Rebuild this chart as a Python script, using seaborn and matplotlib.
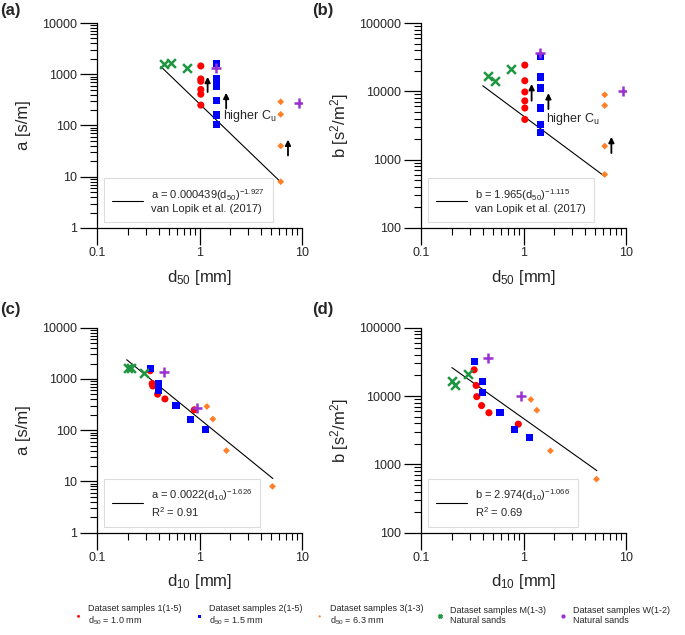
import numpy as np
import pandas as pd
import seaborn as sns
import matplotlib.pyplot as plt
from matplotlib.ticker import FuncFormatter, NullFormatter

# data
s1_d50 = [1.03, 1.03, 1.03, 1.03, 1.03, 1.03]
s1_d10 = [0.33, 0.345, 0.35, 0.39, 0.46, 0.89]
s1_a = [1450, 810, 730, 505, 408, 250]
s1_b = [24200, 14300, 9800, 7250, 5700, 3880]

s2_d50 = [1.48, 1.48, 1.48, 1.48, 1.48, 1.48]
s2_d10 = [0.335, 0.40, 0.40, 0.59, 0.81, 1.15]
s2_a = [1600, 830, 590, 305, 160, 105]
s2_b = [32000, 16200, 11200, 5700, 3270, 2510]

s3_d50 = [6.2, 6.2, 6.2, 6.2]
s3_d10 = [1.18, 1.35, 1.83, 5.15]
s3_a = [290, 165, 40, 8]
s3_b = [8900, 6200, 1580, 608]

m_d50 = [0.45, 0.53, 0.75]
m_d10 = [0.20, 0.215, 0.285]
m_a = [1600, 1650, 1300]
m_b = [16500, 14300, 21100]

w_d50 = [1.45, 9.3]
w_d10 = [0.45, 0.94]
w_a = [1350, 270]
w_b = [36500, 10000]

group_labels = ['Dataset samples 1(1-5)\nd$_{50}$ = 1.0 mm',
                'Dataset samples 2(1-5)\nd$_{50}$ = 1.5 mm',
                'Dataset samples 3(1-3)\nd$_{50}$ = 6.3 mm',
                'Dataset samples M(1-3)\nNatural sands',
                'Dataset samples W(1-2)\nNatural sands']

# fit equations (d in m): y = c * d^p
fit_coef = {'a50': (0.000439, -1.927), 'b50': (1.965, -1.115),
            'a10': (0.0022, -1.626), 'b10': (2.974, -1.066)}
fit_range = {'a50': [0.42, 6.2], 'b50': [0.40, 6.2],
             'a10': [0.195, 5.2], 'b10': [0.20, 5.2]}
fit_text = {'a50': 'a = 0.000439(d$_{50}$)$^{-1.927}$\nvan Lopik et al. (2017)',
            'b50': 'b = 1.965(d$_{50}$)$^{-1.115}$\nvan Lopik et al. (2017)',
            'a10': 'a = 0.0022(d$_{10}$)$^{-1.626}$\nR$^2$ = 0.91',
            'b10': 'b = 2.974(d$_{10}$)$^{-1.066}$\nR$^2$ = 0.69'}

# "higher Cu" arrows (x, y start, y end)
arr_a = {'x': [1.2, 1.82, 7.3], 'y0': [450, 215, 26], 'y1': [890, 435, 53]}
arr_b = {'x': [1.2, 1.75, 7.2], 'y0': [7300, 5500, 1250], 'y1': [12800, 9400, 2150]}

groups = []
for g, (d50, d10, a, b) in enumerate([(s1_d50, s1_d10, s1_a, s1_b), (s2_d50, s2_d10, s2_a, s2_b),
                                      (s3_d50, s3_d10, s3_a, s3_b), (m_d50, m_d10, m_a, m_b),
                                      (w_d50, w_d10, w_a, w_b)]):
    groups.append(pd.DataFrame({'grp': g, 'd50': d50, 'd10': d10, 'a': a, 'b': b}))
df = pd.concat(groups)

colors = ['#ff0000', '#0000ff', '#ff7f27', '#1e9641', '#9a30d0']
markers = ['o', 's', 'D', 'x', '+']
sizes = [26, 26, 12, 40, 55]
lws = [0, 0, 0, 1.8, 1.8]

sns.set_style('ticks')
plt.rcParams['font.family'] = ['Liberation Sans', 'DejaVu Sans']
plt.rcParams['mathtext.fontset'] = 'custom'
plt.rcParams['mathtext.rm'] = 'Liberation Sans'
plt.rcParams['mathtext.it'] = 'Liberation Sans:italic'

fig = plt.figure(figsize=(6.85, 6.35), dpi=100)
W, H = 685, 635
pos = {'a': (97, 228), 'b': (421, 228), 'c': (97, 532.7), 'd': (421, 532.7)}
panels = [('a', 'd50', 'a', 'a50'), ('b', 'd50', 'b', 'b50'),
          ('c', 'd10', 'a', 'a10'), ('d', 'd10', 'b', 'b10')]

fmt = FuncFormatter(lambda v, p: '{:g}'.format(v))
axs = {}
for key, xcol, ycol, fk in panels:
    x0, y0 = pos[key]
    ax = fig.add_axes([x0 / W, 1 - y0 / H, 205 / W, 205 / H])
    axs[key] = ax
    for g in range(5):
        sub = df[df.grp == g]
        sns.scatterplot(data=sub, x=xcol, y=ycol, ax=ax, color=colors[g], marker=markers[g],
                        s=sizes[g], linewidth=lws[g], edgecolor=colors[g] if lws[g] else 'none',
                        label=group_labels[g], legend=False, zorder=3)
    c, p = fit_coef[fk]
    xs = np.array(fit_range[fk])
    ys = c * (xs / 1000.0) ** p
    sns.lineplot(x=xs, y=ys, ax=ax, color='black', linewidth=0.8, legend=False)
    line = ax.get_lines()[-1]
    leg = ax.legend([line], [fit_text[fk]], loc='lower left', bbox_to_anchor=(0.005, 0.0),
                    fontsize=8, frameon=True, fancybox=False, handlelength=2.8,
                    handletextpad=0.7, borderpad=0.75, labelspacing=0.2)
    for t in leg.get_texts():
        t.set_multialignment('left')
    leg.get_frame().set_edgecolor('#d4d4d4')
    leg.get_frame().set_linewidth(0.8)
    ax.set_xscale('log')
    ax.set_yscale('log')
    ax.set_xlim(0.1, 10)
    if ycol == 'a':
        ax.set_ylim(1, 10000)
        ax.set_ylabel('a [s/m]', fontsize=12, labelpad=8)
    else:
        ax.set_ylim(100, 100000)
        ax.set_ylabel('b [s$^2$/m$^2$]', fontsize=12, labelpad=6)
    ax.set_xlabel('d$_{50}$ [mm]' if xcol == 'd50' else 'd$_{10}$ [mm]', fontsize=12, labelpad=6)
    ax.xaxis.set_major_formatter(fmt)
    ax.yaxis.set_major_formatter(fmt)
    ax.xaxis.set_minor_formatter(NullFormatter())
    ax.yaxis.set_minor_formatter(NullFormatter())
    ax.tick_params(which='major', length=12, width=0.9, labelsize=9, pad=2, color='black')
    ax.tick_params(which='minor', length=5, width=0.8, color='black')
    sns.despine(ax=ax)
    for s in ['left', 'bottom']:
        ax.spines[s].set_color('black')
        ax.spines[s].set_linewidth(0.9)
    ax.set_facecolor('white')

for key, arr in [('a', arr_a), ('b', arr_b)]:
    ax = axs[key]
    for x, ya, yb in zip(arr['x'], arr['y0'], arr['y1']):
        ax.annotate('', xy=(x, yb), xytext=(x, ya),
                    arrowprops=dict(arrowstyle='-|>', color='black', lw=1.3,
                                    mutation_scale=8, shrinkA=0, shrinkB=0))
axs['a'].text(1.7, 150, 'higher C$_\\mathrm{u}$', fontsize=9, va='center', ha='left')
axs['b'].text(1.66, 4000, 'higher C$_\\mathrm{u}$', fontsize=9, va='center', ha='left')

for lbl, x, y in [('(a)', 0, 632), ('(b)', 312, 632), ('(c)', 0, 333), ('(d)', 312, 333)]:
    fig.text(x / W, y / H, lbl, fontsize=12, fontweight='bold', va='top', ha='left')

h, l = axs['a'].get_legend_handles_labels()
h, l = h[:5], l[:5]
fleg = fig.legend(h, l, loc='lower center', bbox_to_anchor=(0.54, 0.0), ncol=5, frameon=False,
                  fontsize=6.5, handletextpad=0.1, columnspacing=0.9, markerscale=0.4)
for t in fleg.get_texts():
    t.set_multialignment('left')

fig.savefig('out.png', dpi=100, facecolor='white')
